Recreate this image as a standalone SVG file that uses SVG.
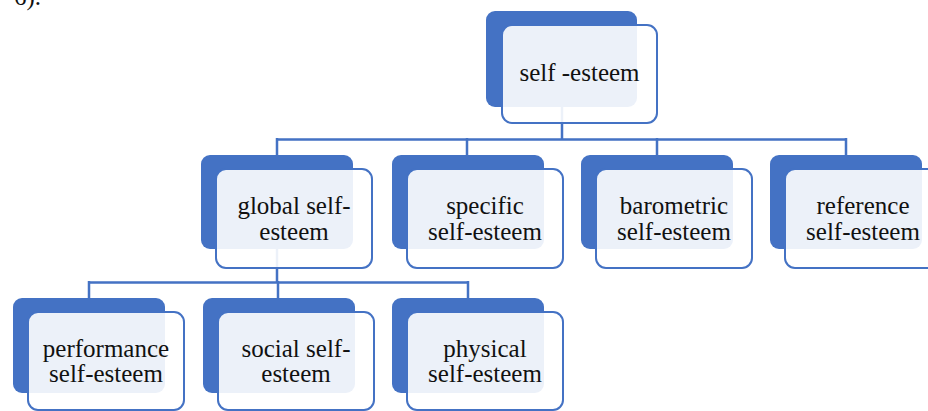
<svg xmlns="http://www.w3.org/2000/svg" width="928" height="411" viewBox="0 0 928 411">
<style>
.bk{fill:#4472C4}
.fr{fill:#FFFFFF;fill-opacity:0.9;stroke:#4472C4;stroke-width:2}
.ln{stroke:#4472C4;stroke-width:2.5;fill:none}
text{font-family:"Liberation Serif","Times New Roman",serif;font-size:25px;fill:#111;text-anchor:middle}
</style>
<rect width="928" height="411" fill="#FFFFFF"/>
<text x="14" y="5" style="text-anchor:start">6).</text>
<g id="connectors">
<path class="ln" d="M562 100V139.5M277 139.5H846M277 138V155M467 138V155M657 138V155M846 138V155"/>
<path class="ln" d="M277 240V282.5M89 282.5H468M89 281V298M278 281V298M468 281V298"/>
</g>
<g id="n-self-esteem">
<rect class="bk" x="486" y="11" width="151" height="96" rx="9"/>
<rect class="fr" x="502" y="25" width="155" height="98" rx="10"/>
<text x="579.5" y="81">self -esteem</text>
</g>
<g id="n-global">
<rect class="bk" x="201" y="155" width="152" height="94" rx="9"/>
<rect class="fr" x="216" y="169" width="156" height="99" rx="10"/>
<text x="294" y="214">global self-</text>
<text x="294" y="240">esteem</text>
</g>
<g id="n-specific">
<rect class="bk" x="392" y="155" width="152" height="94" rx="9"/>
<rect class="fr" x="407" y="169" width="156" height="99" rx="10"/>
<text x="485" y="214">specific</text>
<text x="485" y="240">self-esteem</text>
</g>
<g id="n-barometric">
<rect class="bk" x="581" y="155" width="152" height="94" rx="9"/>
<rect class="fr" x="596" y="169" width="156" height="99" rx="10"/>
<text x="674" y="214">barometric</text>
<text x="674" y="240">self-esteem</text>
</g>
<g id="n-reference">
<rect class="bk" x="770" y="155" width="152" height="94" rx="9"/>
<rect class="fr" x="785" y="169" width="156" height="99" rx="10"/>
<text x="863" y="214">reference</text>
<text x="863" y="240">self-esteem</text>
</g>
<g id="n-performance">
<rect class="bk" x="13" y="298" width="152" height="95" rx="9"/>
<rect class="fr" x="28" y="312" width="156" height="98" rx="10"/>
<text x="106" y="357">performance</text>
<text x="106" y="382">self-esteem</text>
</g>
<g id="n-social">
<rect class="bk" x="203" y="298" width="152" height="95" rx="9"/>
<rect class="fr" x="218" y="312" width="156" height="98" rx="10"/>
<text x="296" y="357">social self-</text>
<text x="296" y="382">esteem</text>
</g>
<g id="n-physical">
<rect class="bk" x="392" y="298" width="152" height="95" rx="9"/>
<rect class="fr" x="407" y="312" width="156" height="98" rx="10"/>
<text x="485" y="357">physical</text>
<text x="485" y="382">self-esteem</text>
</g>
</svg>
